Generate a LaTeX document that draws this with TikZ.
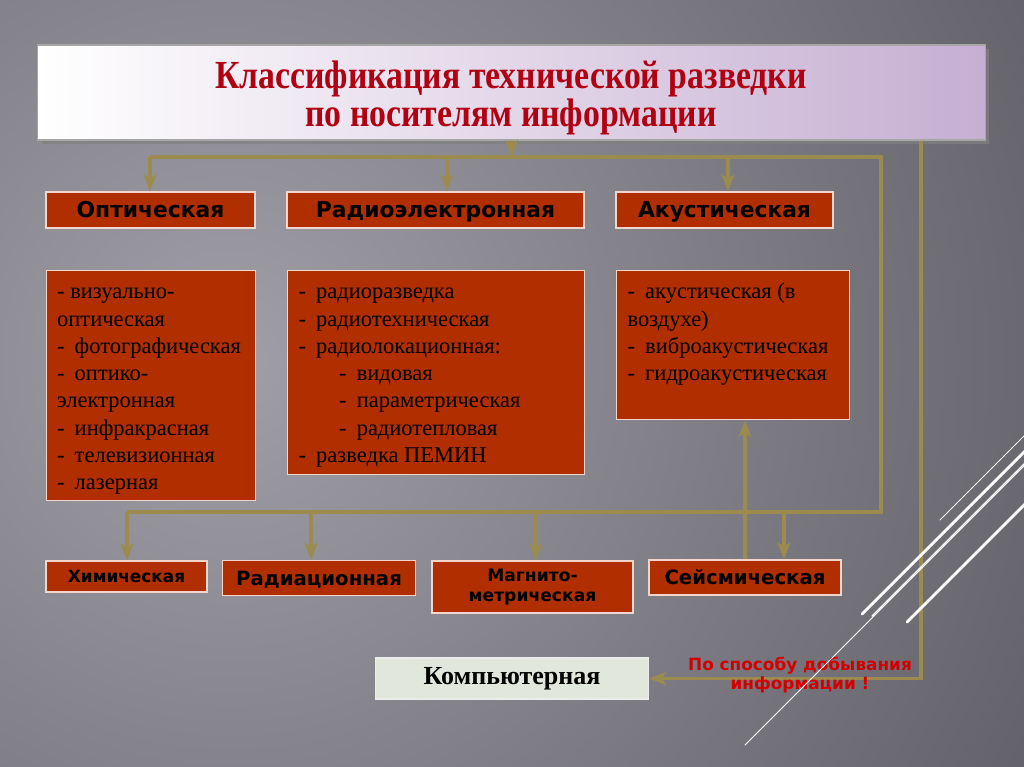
\documentclass[tikz,border=0pt]{standalone}
\usepackage{fontspec}
\setmainfont{Liberation Serif}
\newfontfamily\dejavu{DejaVu Sans}
\usepackage{tikz}
\usetikzlibrary{positioning,arrows.meta,shadows}
\definecolor{bgdark}{HTML}{5D5B62}
\definecolor{bglight}{HTML}{A09EA6}
\definecolor{boxred}{HTML}{B02E00}
\definecolor{boxrim}{HTML}{F2D6CC}
\definecolor{wirecol}{HTML}{9C8B4E}
\definecolor{titlered}{HTML}{B00012}
\definecolor{notered}{HTML}{D40000}
\definecolor{pale}{HTML}{E1E7DB}
\definecolor{lilac}{HTML}{C6AFD2}
\newcommand\itm{-\hspace{0.45em}}
\newcommand\lst[3]{\parbox[c][#1][t]{#2}{\fontsize{16pt}{19.4pt}\selectfont\strut#3}}
\newcommand\tall[1]{\scalebox{1}[1.18]{#1}}

\begin{document}
\begin{tikzpicture}[x=0.025cm,y=-0.025cm,
  banner/.style={draw=gray!70,line width=0.8pt,left color=white,right color=lilac,
    minimum width=23.675cm,minimum height=2.375cm,
    drop shadow={shadow xshift=3pt,shadow yshift=-3pt,opacity=0.7}},
  heading/.style={text=titlered,align=center,font=\bfseries\fontsize{24pt}{27.5pt}\selectfont},
  kind/.style={draw=boxrim,line width=0.9pt,fill=boxred,inner sep=0pt,align=center,
    font=\dejavu\bfseries\fontsize{15.5pt}{18pt}\selectfont,minimum height=0.9cm},
  one/.style={kind,text height=11.3pt,text depth=0pt},
  small/.style={text height=8.8pt,text depth=0pt,font=\dejavu\bfseries\fontsize{12pt}{14pt}\selectfont},
  mid/.style={text height=10.2pt,text depth=0pt,font=\dejavu\bfseries\fontsize{14pt}{16pt}\selectfont},
  list/.style={draw=boxrim,line width=0.9pt,fill=boxred,anchor=north west,
    inner xsep=0.275cm,inner ysep=0.225cm,align=left},
  note/.style={text=notered,align=center,font=\dejavu\bfseries\fontsize{12pt}{14pt}\selectfont},
  wire/.style={draw=wirecol,line width=2.2pt},
  wirearrow/.style={wire,-{Stealth[length=12pt,width=9pt,inset=3pt]}},
  deco/.style={white,line cap=round}]
\useasboundingbox (0,0) rectangle (1024,767);
\fill[bgdark] (0,0) rectangle (1024,767);
\begin{scope}
\clip (0,0) rectangle (1024,767);
\shade[inner color=bglight,outer color=bgdark] (230,360) circle (1000);
\end{scope}

\node[banner] (title) at (511.5,92.5) {};
\node[heading] (titletext) at (511,98) {\tall{Классификация технической разведки}\\\tall{по носителям информации}};

\node[one,minimum width=5.225cm] (opt) at (150.5,210) {Оптическая};
\node[one,minimum width=7.425cm] (rad) at (435.5,210) {Радиоэлектронная};
\node[one,minimum width=5.425cm] (aku) at (724.5,210) {Акустическая};

\node[list] (optl) at (45.5,270) {\lst{5.3cm}{4.675cm}{- визуально-\\оптическая\\\itm фотографическая\\\itm оптико-\\электронная\\\itm инфракрасная\\\itm телевизионная\\\itm лазерная}};
\node[list] (radl) at (287,270) {\lst{4.65cm}{6.875cm}{\itm радиоразведка\\\itm радиотехническая\\\itm радиолокационная:\\\hspace*{1.8em}\itm видовая\\\hspace*{1.8em}\itm параметрическая\\\hspace*{1.8em}\itm радиотепловая\\\itm разведка ПЕМИН}};
\node[list] (akul) at (616,270) {\lst{3.275cm}{5.275cm}{\itm акустическая (в\\воздухе)\\\itm виброакустическая\\\itm гидроакустическая}};

\node[one,small,minimum width=4.025cm,minimum height=0.775cm] (chem) at (126.5,576.5) {Химическая};
\node[one,mid,minimum width=4.825cm,minimum height=0.875cm] (rad2) at (319,578) {Радиационная};
\node[kind,minimum width=5.025cm,minimum height=1.3cm,font=\dejavu\bfseries\fontsize{12.2pt}{14.2pt}\selectfont] (magn) at (532.5,587) {Магнито-\\метрическая};
\node[one,mid,minimum width=4.8cm,minimum height=0.875cm] (seis) at (745,577.5) {Сейсмическая};

\node[draw=white!85!gray,fill=pale,line width=0.9pt,minimum width=6.825cm,minimum height=1.025cm,
  font=\bfseries\fontsize{18.5pt}{20pt}\selectfont] (komp) at (512,678.5) {Компьютерная};

\coordinate (hub) at (512,157);
\coordinate (ring) at (881,512);
\coordinate (side) at (921,140);
\draw[wirearrow] (title.south) -- (hub);
\draw[wire] (150,157) -- (ring |- hub) -- (ring) -- (127,512);
\foreach \x/\n in {150/opt,447/rad,728/aku}
  \draw[wirearrow] (\x,157) -- (\x,0 |- \n.north);
\foreach \x/\n in {127/chem,311/rad2,536/magn,784/seis}
  \draw[wirearrow] (\x,512) -- (\x,0 |- \n.north);
\draw[wirearrow] (seis.north) -- (seis.north |- akul.south);
\draw[wirearrow] (side |- title.south) |- (komp.east);

\node[note] (how) at (800,675) {По способу добывания\\информации !};

\draw[deco,line width=0.6pt] (940,520) -- (1030,430);
\draw[deco,line width=2pt] (862,614) -- (1030,446);
\draw[deco,line width=1pt] (872,616) -- (1030,458);
\draw[deco,line width=0.7pt] (745,745) -- (1030,460);
\draw[deco,line width=2pt] (907,622) -- (1030,499);
\end{tikzpicture}
\end{document}
